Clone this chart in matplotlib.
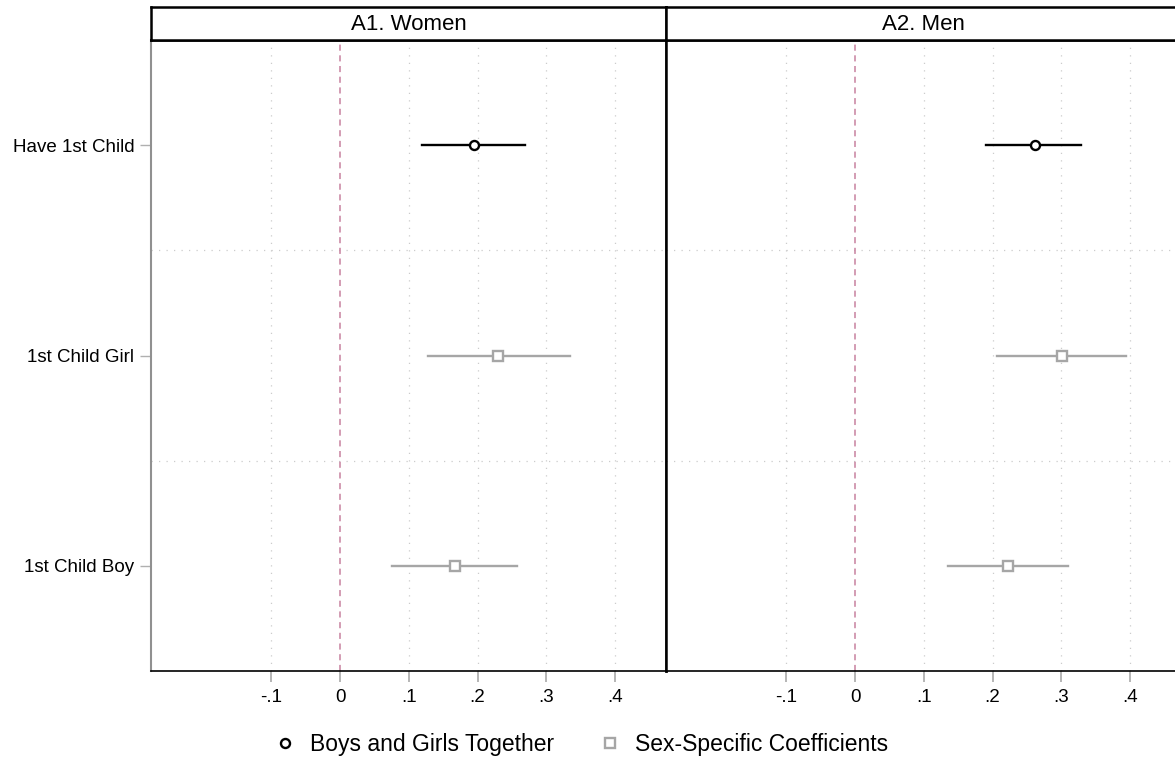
import numpy as np
import matplotlib.pyplot as plt
from matplotlib.lines import Line2D

plt.rcParams['font.family'] = ['Liberation Sans', 'DejaVu Sans']

categories = ["Have 1st Child", "1st Child Girl", "1st Child Boy"]
panels = ["A1. Women", "A2. Men"]

# point estimates and 95% CI, one row per category
women_est = [0.195, 0.230, 0.167]
women_lo = [0.119, 0.128, 0.076]
women_hi = [0.269, 0.334, 0.257]

men_est = [0.261, 0.301, 0.222]
men_lo = [0.191, 0.207, 0.135]
men_hi = [0.329, 0.394, 0.310]

xticks = [-0.1, 0.0, 0.1, 0.2, 0.3, 0.4]
xticklabels = ["-.1", "0", ".1", ".2", ".3", ".4"]

W, H = 1175, 761
fig = plt.figure(figsize=(W / 100, H / 100), dpi=100)

black = "#000000"
grey = "#a6a6a6"
refcol = "#c7819f"

def px(x0, y0, w, h):
    return [x0 / W, 1 - (y0 + h) / H, w / W, h / H]

data = [(women_est, women_lo, women_hi), (men_est, men_lo, men_hi)]
left = [151, 666]
pw = 515

for i in range(2):
    ax = fig.add_axes(px(left[i], 40, pw, 631))
    est, lo, hi = data[i]
    ypos = np.arange(1, len(categories) + 1)

    for xt in xticks:
        if xt == 0:
            ax.axvline(xt, color=refcol, lw=1.1, ls=(0, (4, 3)), zorder=1)
        else:
            ax.axvline(xt, color="#cccccc", lw=0.9, ls=(0, (1, 5)), zorder=0)
    for yg in [1.5, 2.5]:
        ax.axhline(yg, color="#cccccc", lw=0.9, ls=(0, (1, 5)), zorder=0)

    for j in range(len(categories)):
        col = black if j == 0 else grey
        ax.plot([lo[j], hi[j]], [ypos[j], ypos[j]], color=col, lw=1.7, zorder=2)
        if j == 0:
            ax.plot(est[j], ypos[j], marker="o", ms=6.5, mfc="white", mec=black, mew=1.7, zorder=3)
        else:
            ax.plot(est[j], ypos[j], marker="s", ms=6.5, mfc="white", mec=grey, mew=1.7, zorder=3)

    ax.set_xlim(-0.2747, 0.4738)
    ax.set_ylim(3.5, 0.5)
    ax.set_xticks(xticks)
    ax.set_xticklabels(xticklabels, fontsize=13.5)
    ax.tick_params(axis="x", length=8, width=1.3, color="#b0b0b0", pad=5)
    ax.set_yticks(ypos)
    if i == 0:
        ax.set_yticklabels(categories, fontsize=13.5)
        ax.tick_params(axis="y", length=8, width=1.0, color="#b0b0b0", pad=4)
        ax.spines["left"].set_color("#909090")
        ax.spines["left"].set_linewidth(1.5)
    else:
        ax.set_yticklabels([])
        ax.tick_params(axis="y", length=0)
        ax.spines["left"].set_linewidth(1.8)
    ax.spines["top"].set_linewidth(1.8)
    ax.spines["right"].set_linewidth(1.8)
    ax.spines["bottom"].set_linewidth(1.2)

    hx = fig.add_axes(px(left[i], 7, pw, 33))
    hx.set_xticks([])
    hx.set_yticks([])
    for s in hx.spines.values():
        s.set_linewidth(1.8)
    hx.text(0.5, 0.47, panels[i], ha="center", va="center", fontsize=16, transform=hx.transAxes)

handles = [
    Line2D([], [], ls="none", marker="o", ms=6.5, mfc="white", mec=black, mew=1.7),
    Line2D([], [], ls="none", marker="s", ms=6.5, mfc="white", mec=grey, mew=1.7),
]
fig.legend(handles, ["Boys and Girls Together", "Sex-Specific Coefficients"],
           loc="center", bbox_to_anchor=(582 / W, 1 - 745 / H), ncol=2, frameon=False,
           fontsize=16.5, handlelength=0.8, handletextpad=0.7, columnspacing=2.0)

fig.savefig("out.png", dpi=100, facecolor="white")
